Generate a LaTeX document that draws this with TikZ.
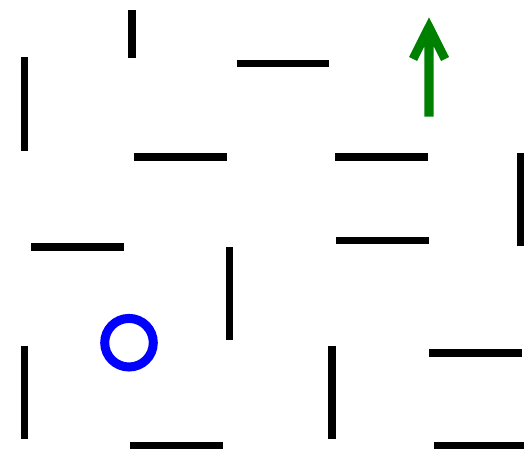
\documentclass[tikz,border=0pt]{standalone}
\usepackage{tikz}
\definecolor{goalgreen}{RGB}{0,128,0}
\definecolor{agentblue}{RGB}{0,0,255}
\tikzset{
  wall/.style={line width=7.5pt,line cap=butt,black},
  agent/.style={line width=9pt,agentblue},
}
\begin{document}
\begin{tikzpicture}[x=1pt,y=-1pt]
  \useasboundingbox (0,0) rectangle (524,453);

  % 竖直墙
  \foreach \x/\ya/\yb in {132/10/58, 24.5/57/151, 520.5/153/246,
                          229.5/247/340, 24.5/345.7/439, 332/345.7/439}
    \draw[wall] (\x,\ya) -- (\x,\yb);

  % 水平墙
  \foreach \y/\xa/\xb in {63.3/236.7/329.3, 157/133.5/226.5, 157/335/428.3,
                          247/31/124, 240.5/336/429.3, 353/429.3/522.3,
                          445.5/130/223, 445.5/434.3/524}
    \draw[wall] (\xa,\y) -- (\xb,\y);

  % 目标箭头
  \coordinate (T) at (429,17.3);
  \fill[goalgreen] (T) -- (449,57) -- (441,61) -- (433.7,46.4)
    -- (433.7,116.7) -- (424.3,116.7) -- (424.3,46.4)
    -- (417,61) -- (409,57) -- cycle;

  % 智能体
  \coordinate (O) at (129,342.7);
  \draw[agent] (O) circle[radius=24.3];
\end{tikzpicture}
\end{document}
